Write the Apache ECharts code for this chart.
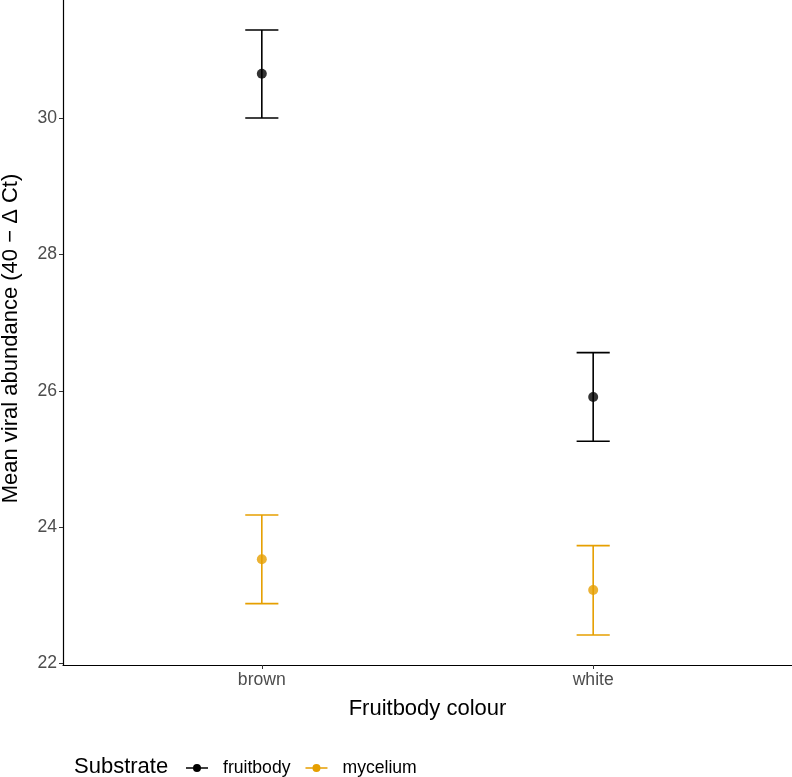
<!DOCTYPE html>
<html>
<head>
<meta charset="utf-8">
<script src="https://cdn.jsdelivr.net/npm/echarts@6/dist/echarts.min.js"></script>
<style>html,body{margin:0;padding:0;background:#fff;}#c{width:792px;height:777px;}</style>
</head>
<body>
<div id="c"></div>
<script>
const categories = ['brown', 'white'];
const substrates = ['fruitbody', 'mycelium'];
const fruitbodyMean = [30.65, 25.91];
const fruitbodyLow = [30.00, 25.26];
const fruitbodyHigh = [31.29, 26.56];
const myceliumMean = [23.53, 23.08];
const myceliumLow = [22.88, 22.42];
const myceliumHigh = [24.18, 23.73];
const yTicks = [22, 24, 26, 28, 30];
const colors = {fruitbody: '#000000', mycelium: '#E69F00'};
const FONT = 'Liberation Sans, Arial, sans-serif';

const groups = {
  fruitbody: {mean: fruitbodyMean, low: fruitbodyLow, high: fruitbodyHigh},
  mycelium: {mean: myceliumMean, low: myceliumLow, high: myceliumHigh}
};

const series = [];
substrates.forEach(function (s) {
  const g = groups[s];
  series.push({
    name: s,
    type: 'custom',
    renderItem: function (params, api) {
      const x = api.value(0);
      const lo = api.coord([x, api.value(1)]);
      const hi = api.coord([x, api.value(2)]);
      const left = api.coord([x - 0.05, api.value(1)])[0];
      const right = api.coord([x + 0.05, api.value(1)])[0];
      const style = {stroke: colors[s], lineWidth: 1.6, fill: null};
      return {
        type: 'group',
        children: [
          {type: 'line', shape: {x1: lo[0], y1: lo[1], x2: hi[0], y2: hi[1]}, style: style},
          {type: 'line', shape: {x1: left, y1: lo[1], x2: right, y2: lo[1]}, style: style},
          {type: 'line', shape: {x1: left, y1: hi[1], x2: right, y2: hi[1]}, style: style}
        ]
      };
    },
    data: categories.map(function (c, i) { return [i + 1, g.low[i], g.high[i]]; }),
    itemStyle: {color: colors[s]},
    z: 2
  });
  series.push({
    name: s,
    type: 'scatter',
    symbol: 'circle',
    symbolSize: 10,
    itemStyle: {color: colors[s]},
    data: categories.map(function (c, i) { return [i + 1, g.mean[i]]; }),
    z: 3
  });
});

const chart = echarts.init(document.getElementById('c'));
chart.setOption({
  animation: false,
  backgroundColor: '#fff',
  textStyle: {fontFamily: FONT},
  title: {
    text: 'Substrate',
    left: 74, top: 756, padding: 0,
    textStyle: {fontFamily: FONT, fontSize: 22, fontWeight: 'normal', color: '#000'}
  },
  legend: {
    data: [
      {name: 'fruitbody', icon: 'path://M0,4.2H22V5.8H0Z M11,1A4,4 0 1 1 10.99,1Z'},
      {name: 'mycelium', icon: 'path://M0,4.2H22V5.8H0Z M11,1A4,4 0 1 1 10.99,1Z'}
    ],
    left: 186, top: 759, padding: 0,
    itemWidth: 22, itemHeight: 10, itemGap: 15,
    textStyle: {fontFamily: FONT, fontSize: 17.6, color: '#000', padding: [0, 0, 0, 10]}
  },
  grid: {left: 63, right: 0, top: 0, bottom: 112, containLabel: false, outerBoundsMode: 'none'},
  xAxis: {
    type: 'value',
    min: 0.4, max: 2.6,
    name: 'Fruitbody colour',
    nameLocation: 'middle',
    nameGap: 33,
    nameTextStyle: {fontFamily: FONT, fontSize: 22, color: '#000'},
    axisLine: {show: true, lineStyle: {color: '#000', width: 1.2}},
    axisTick: {show: true, length: 4, lineStyle: {color: '#333'}, customValues: [1, 2]},
    axisLabel: {
      customValues: [1, 2],
      fontSize: 17.6, color: '#4d4d4d', margin: 6, fontFamily: FONT,
      formatter: function (v) { return categories[Math.round(v) - 1]; }
    },
    splitLine: {show: false}
  },
  yAxis: {
    type: 'value',
    min: 21.98, max: 31.73,
    name: 'Mean viral abundance (40 \u2212 \u0394 Ct)',
    nameLocation: 'middle',
    nameGap: 41,
    nameTextStyle: {
      fontFamily: FONT, fontSize: 22, color: '#000',
      padding: [0, 12, 0, 0]
    },
    axisLine: {show: true, lineStyle: {color: '#000', width: 1.2}},
    axisTick: {show: true, length: 4, lineStyle: {color: '#333'}, customValues: yTicks},
    axisLabel: {customValues: yTicks, fontSize: 17.6, color: '#4d4d4d', margin: 6, fontFamily: FONT},
    splitLine: {show: false}
  },
  series: series
});
</script>
</body>
</html>
